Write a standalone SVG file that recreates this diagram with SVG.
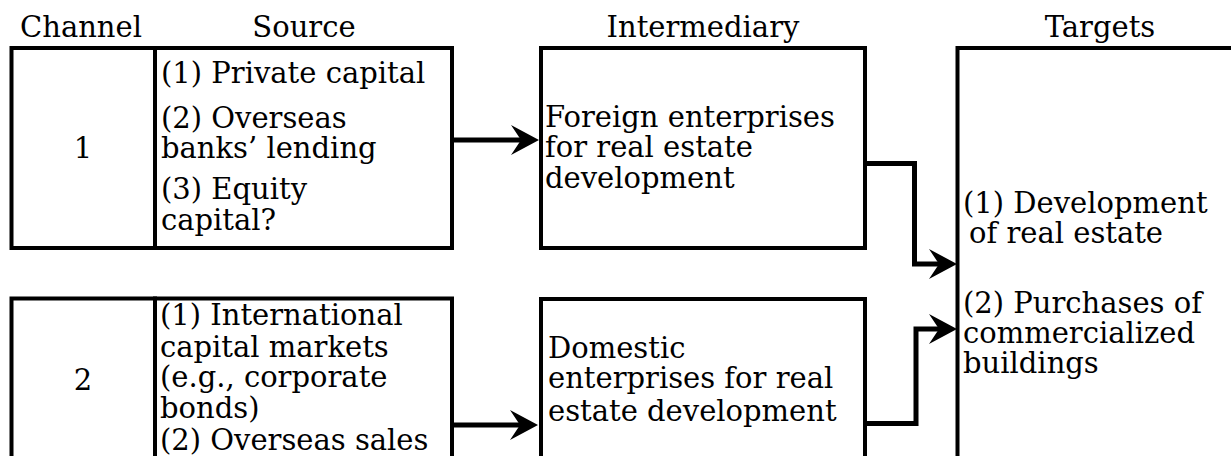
<svg xmlns="http://www.w3.org/2000/svg" width="1231" height="456" viewBox="0 0 1231 456">
<style>
.box{fill:#fff;stroke:#000;stroke-width:4}
.t{font-family:"DejaVu Serif","Liberation Serif",serif;font-size:29px;fill:#000}
.c{text-anchor:middle}
.con{fill:none;stroke:#000;stroke-width:5;stroke-linejoin:miter}
</style>
<defs>
<marker id="arr" markerUnits="userSpaceOnUse" markerWidth="32" markerHeight="34" viewBox="-30 -17 32 34" refX="-16" refY="0" orient="auto">
<path d="M0,0 L-28,-15 L-18,0 L-28,15 Z" fill="#000"/>
</marker>
</defs>
<rect width="1231" height="456" fill="#fff"/>
<g id="headers">
<text class="t c" x="81" y="37">Channel</text>
<text class="t c" x="304" y="37">Source</text>
<text class="t c" x="703" y="37">Intermediary</text>
<text class="t c" x="1100" y="37">Targets</text>
</g>
<g id="channel1">
<rect class="box" x="11.5" y="48" width="143.5" height="200"/>
<text class="t c" x="83" y="158">1</text>
</g>
<g id="source1">
<rect class="box" x="155" y="48" width="297" height="200"/>
<text class="t" x="161" y="83">(1) Private capital</text>
<text class="t" x="161" y="127.5">(2) Overseas</text>
<text class="t" x="161" y="157.5">banks’ lending</text>
<text class="t" x="161" y="199">(3) Equity</text>
<text class="t" x="161" y="230">capital?</text>
</g>
<g id="intermediary1">
<rect class="box" x="541" y="48" width="324" height="200"/>
<text class="t" x="545" y="127">Foreign enterprises</text>
<text class="t" x="545" y="157">for real estate</text>
<text class="t" x="545" y="188">development</text>
</g>
<g id="channel2">
<rect class="box" x="11.5" y="298.5" width="143.5" height="180"/>
<text class="t c" x="83" y="390">2</text>
</g>
<g id="source2">
<rect class="box" x="155" y="298.5" width="297" height="180"/>
<text class="t" x="160" y="325">(1) International</text>
<text class="t" x="160" y="356.5">capital markets</text>
<text class="t" x="160" y="387">(e.g., corporate</text>
<text class="t" x="160" y="418">bonds)</text>
<text class="t" x="160" y="450">(2) Overseas sales</text>
</g>
<g id="intermediary2">
<rect class="box" x="541" y="299" width="324" height="180"/>
<text class="t" x="548" y="358">Domestic</text>
<text class="t" x="548" y="388">enterprises for real</text>
<text class="t" x="548" y="421">estate development</text>
</g>
<g id="targets">
<rect class="box" x="957.5" y="48" width="300" height="440"/>
<text class="t" x="963" y="213">(1) Development</text>
<text class="t" x="969" y="243">of real estate</text>
<text class="t" x="963" y="313">(2) Purchases of</text>
<text class="t" x="963" y="343">commercialized</text>
<text class="t" x="963" y="373">buildings</text>
</g>
<g id="connectors">
<path class="con" d="M452,140 H523" marker-end="url(#arr)"/>
<path class="con" d="M452,425 H522" marker-end="url(#arr)"/>
<path class="con" d="M865,163.5 H914.5 V264 H941" marker-end="url(#arr)"/>
<path class="con" d="M865,423.5 H916 V329 H941" marker-end="url(#arr)"/>
</g>
</svg>
